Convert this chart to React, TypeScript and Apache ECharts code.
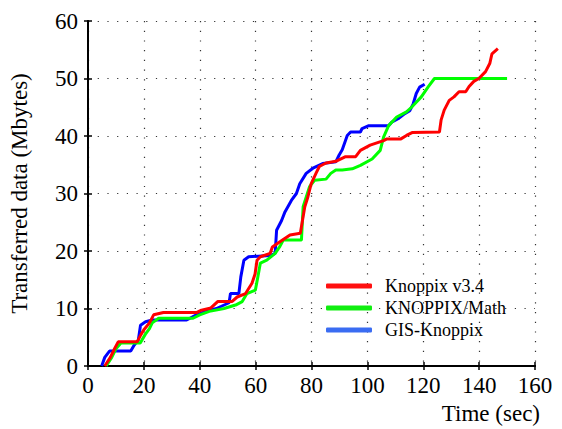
import React, { useEffect, useRef } from "react";
import * as echarts from "echarts";

const xTicks = [0, 20, 40, 60, 80, 100, 120, 140, 160];
const yTicks = [0, 10, 20, 30, 40, 50, 60];

const seriesNames = ["Knoppix v3.4", "KNOPPIX/Math", "GIS-Knoppix"];

const knoppixTime = [6, 8, 9.5, 10.8, 17.6, 19, 20, 22, 23.5, 27, 38.8, 40.6, 44, 46.4, 51.5, 53.4, 56.4, 58.7, 59.8, 60.5, 61.7, 65.2, 66, 68.7, 72.3, 76, 77.6, 78.7, 79.9, 81.6, 82.8, 85.2, 88.7, 92.2, 95.8, 97.5, 101, 105.8, 107, 112, 114, 116, 125.8, 126.4, 127.5, 129.3, 131, 132.8, 135.2, 136.4, 138.1, 139.9, 142.3, 143.8, 144.6, 146.7];
const knoppixData = [0, 1.5, 3, 4.2, 4.2, 5.5, 6.3, 7.5, 8.9, 9.3, 9.3, 9.7, 10.1, 11.2, 11.2, 12, 12.6, 14.4, 16, 18.4, 19, 19.6, 20.7, 21.6, 22.8, 23.1, 27.7, 29.4, 31.7, 33.5, 34.7, 35.3, 35.6, 36.4, 36.4, 37.5, 38.4, 39.2, 39.5, 39.5, 40.1, 40.6, 40.7, 42.8, 44.5, 46.2, 46.8, 47.7, 47.7, 48.6, 49.5, 50, 51.2, 52.6, 54.3, 55.2];

const mathTime = [6.5, 8.5, 10, 11.8, 18.7, 20.5, 22, 23, 25.3, 37.6, 40, 43.4, 48.7, 52.8, 55.2, 56.9, 59.9, 60.8, 61.7, 64, 67, 68.7, 69.9, 76.4, 77, 79.3, 81.1, 85.2, 86.9, 88.7, 91, 94.6, 97.5, 101.7, 104.6, 105.8, 107.6, 110.5, 114, 115.8, 119.3, 121.7, 124, 150];
const mathData = [0, 1.5, 3, 4, 4, 5.5, 6.5, 7.5, 8.3, 8.3, 8.9, 9.5, 10, 10.6, 11.2, 12.6, 13.2, 15.5, 17.9, 18.4, 19.6, 20.8, 21.9, 21.9, 27.7, 31.2, 32.3, 32.5, 33.5, 34.1, 34.1, 34.3, 34.9, 36, 37.5, 39.8, 41.8, 43.3, 44.2, 45, 46.8, 48.5, 50, 50];

const gisTime = [4.9, 6, 7.7, 15.3, 16.5, 18, 18.8, 20.6, 23, 35.3, 38.8, 43.4, 46, 50.5, 51, 54, 54.7, 55.8, 57.5, 65.2, 67, 67.5, 69.3, 70.5, 72.8, 74.6, 75.8, 78.1, 80.5, 84, 88.7, 89.9, 91, 92.8, 94, 97.5, 98.1, 100.5, 107.6, 108.7, 111, 113.4, 115.2, 116.4, 117.5, 118.7, 120.5];
const gisData = [0, 1.5, 2.6, 2.6, 3.6, 4.5, 7.1, 7.7, 8, 8, 8.9, 9.7, 10, 11, 12.6, 12.6, 15.5, 18.4, 19, 19.2, 19.6, 23.6, 25.3, 26.8, 28.8, 30, 31.7, 33.5, 34.4, 35.2, 35.5, 36.7, 37.6, 40.1, 40.7, 40.7, 41.3, 41.8, 41.8, 42.4, 43, 43.9, 44.4, 45.6, 47.4, 48.5, 49];

const lineColors = ["#ff0000", "#00ff00", "#0000ff"];
const legendColors = ["#ff1010", "#10ee10", "#3a6cf2"];

const FONT = "'Liberation Serif', 'Times New Roman', serif";

function pairs(t: number[], v: number[]) {
  return t.map((x, i) => [x, v[i]]);
}

export default function App() {
  const ref = useRef<HTMLDivElement>(null);
  useEffect(() => {
    if (!ref.current) return;
    const chart = echarts.init(ref.current, null, { renderer: "svg" });
    const axisLine = { show: true, lineStyle: { color: "#000", width: 2 } };
    const splitLine = { show: true, lineStyle: { color: "#333", width: 1.2, type: [1.2, 8.5] as any } };
    const tick = { show: true, inside: true, length: 4, lineStyle: { color: "#000", width: 1.5 } };
    const dataSets = [pairs(knoppixTime, knoppixData), pairs(mathTime, mathData), pairs(gisTime, gisData)];
    chart.setOption({
      animation: false,
      backgroundColor: "#fff",
      grid: { left: 82, right: 27, top: 21, bottom: 63, containLabel: false },
      legend: {
        orient: "vertical",
        left: 326,
        top: 277,
        padding: 0,
        itemWidth: 46,
        itemHeight: 5,
        itemGap: 4,
        icon: "roundRect",
        data: seriesNames.map((n, i) => ({ name: n, itemStyle: { color: legendColors[i] } })),
        textStyle: { fontFamily: FONT, fontSize: 18, color: "#000", padding: [0, 0, 0, 8], lineHeight: 17 },
      },
      xAxis: [
        {
          type: "value",
          min: 0,
          max: 160,
          interval: 20,
          axisLine,
          axisTick: tick,
          splitLine,
          axisLabel: { fontFamily: FONT, fontSize: 23, color: "#000", margin: 8 },
        },
        {
          type: "value",
          position: "top",
          min: 0,
          max: 160,
          interval: 20,
          axisLine,
          axisTick: tick,
          splitLine: { show: false },
          axisLabel: { show: false },
        },
      ],
      yAxis: [
        {
          type: "value",
          min: 0,
          max: 60,
          interval: 10,
          name: "Transferred data (Mbytes)",
          nameLocation: "middle",
          nameGap: 57,
          nameTextStyle: { fontFamily: FONT, fontSize: 23, color: "#000" },
          axisLine,
          axisTick: tick,
          splitLine,
          axisLabel: { fontFamily: FONT, fontSize: 23, color: "#000", margin: 10 },
        },
        {
          type: "value",
          position: "right",
          min: 0,
          max: 60,
          interval: 10,
          axisLine,
          axisTick: tick,
          splitLine: { show: false },
          axisLabel: { show: false },
        },
      ],
      graphic: [
        {
          type: "text",
          right: 22,
          top: 402,
          style: { text: "Time (sec)", font: `23px ${FONT}`, fill: "#000" },
        },
      ],
      series: seriesNames.map((n, i) => ({
        name: n,
        type: "line",
        data: dataSets[i],
        showSymbol: false,
        symbol: "none",
        lineStyle: { color: lineColors[i], width: 3 },
        itemStyle: { color: lineColors[i] },
        z: 3 - i,
      })),
    });
    return () => chart.dispose();
  }, []);
  return <div ref={ref} style={{ position: "fixed", left: 0, top: 0, width: 562, height: 429 }} />;
}
